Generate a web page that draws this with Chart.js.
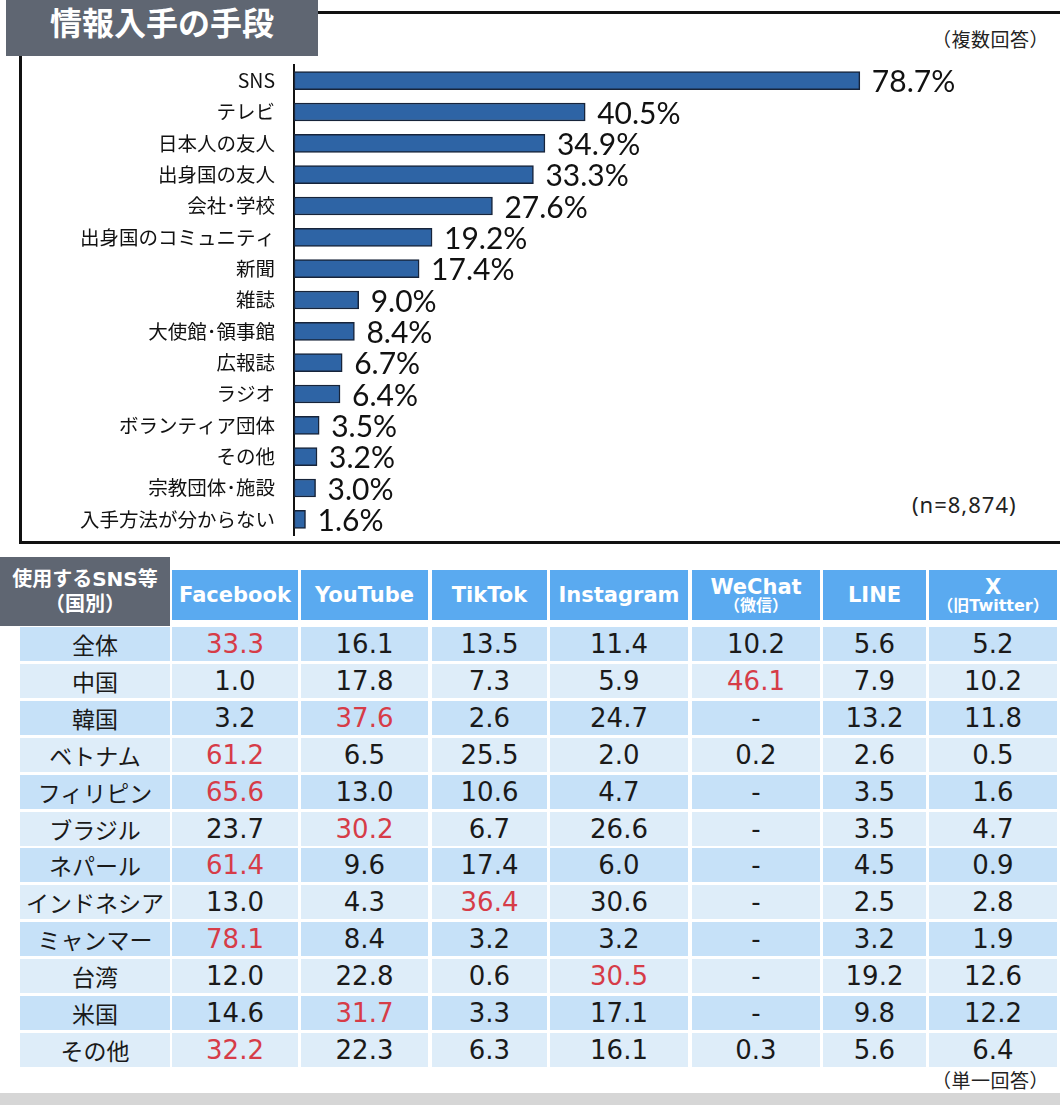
<!DOCTYPE html>
<html lang="ja">
<head>
<meta charset="utf-8">
<title>情報入手の手段</title>
<script src="https://cdn.jsdelivr.net/npm/chart.js@4.4.1/dist/chart.umd.min.js"></script>
<style>
  html, body { margin: 0; padding: 0; background: #fff; }
  body {
    width: 1060px; height: 1105px; position: relative; overflow: hidden;
    font-family: "Noto Sans CJK JP", "Noto Sans", sans-serif; color: #111;
  }
  #titleBox {
    position: absolute; left: 6px; top: 0; width: 312px; height: 56px;
    background: #5f6672; color: #fff; font-weight: bold; font-size: 32px;
    line-height: 42px; text-align: center; z-index: 2;
  }
  #frame {
    position: absolute; left: 19px; top: 11px; width: 1100px; height: 527px;
    border: 3px solid #111; z-index: 1;
  }
  #chartWrap { position: absolute; left: 20px; top: 56px; width: 1040px; height: 485px; z-index: 3; }
  .note { position: absolute; font-size: 19px; color: #222; z-index: 3; letter-spacing: 0.5px; }
  .cell {
    position: absolute; display: flex; align-items: center; justify-content: center;
    text-align: center; box-sizing: border-box;
  }
  .head { background: #5aaaf0; color: #fff; font-weight: bold;
    font-family: "DejaVu Sans", "Noto Sans CJK JP", sans-serif; font-size: 21px; flex-direction: column; line-height: 1.05; }
  .head small { font-size: 16px; font-weight: bold; }
  .corner { background: #5f6672; color: #fff; font-weight: bold; font-size: 20px; flex-direction: column; line-height: 1.25;
    font-family: "DejaVu Sans", "Noto Sans CJK JP", sans-serif; }
  .num { font-family: "DejaVu Sans", "Noto Sans CJK JP", sans-serif; font-size: 26px; color: #1a1a1a; }
  .num.top { color: #d63c48; }
  .country { font-size: 23px; color: #1a1a1a; }
  #band { position: absolute; left: 0; top: 1093px; width: 1060px; height: 12px; background: #d6d6d6; }
</style>
</head>
<body>
<div id="titleBox">情報入手の手段</div>
<div id="frame"></div>
<div class="note" style="left:932px; top:25px;">（複数回答）</div>
<div class="note" style="left:912px; top:489px; font-size:22px; letter-spacing:1px; font-family:'Noto Sans','DejaVu Sans',sans-serif;">(n=8,874)</div>
<div id="chartWrap"><canvas id="infoChart"></canvas></div>
<div id="table"></div>
<div class="note" style="left:932px; top:1066px;">（単一回答）</div>
<div id="band"></div>

<script>
// 情報入手の手段（複数回答, %）
const categories = ['SNS', 'テレビ', '日本人の友人', '出身国の友人', '会社･学校', '出身国のコミュニティ', '新聞',
  '雑誌', '大使館･領事館', '広報誌', 'ラジオ', 'ボランティア団体', 'その他', '宗教団体･施設', '入手方法が分からない'];
const shares = [78.7, 40.5, 34.9, 33.3, 27.6, 19.2, 17.4, 9.0, 8.4, 6.7, 6.4, 3.5, 3.2, 3.0, 1.6];

// 使用するSNS等（国別, 単一回答, %）
const platforms = ['Facebook', 'YouTube', 'TikTok', 'Instagram', 'WeChat', 'LINE', 'X'];
const platformNotes = ['', '', '', '', '（微信）', '', '（旧Twitter）'];
const countries = ['全体', '中国', '韓国', 'ベトナム', 'フィリピン', 'ブラジル', 'ネパール', 'インドネシア', 'ミャンマー', '台湾', '米国', 'その他'];
const facebook  = [33.3, 1.0, 3.2, 61.2, 65.6, 23.7, 61.4, 13.0, 78.1, 12.0, 14.6, 32.2];
const youtube   = [16.1, 17.8, 37.6, 6.5, 13.0, 30.2, 9.6, 4.3, 8.4, 22.8, 31.7, 22.3];
const tiktok    = [13.5, 7.3, 2.6, 25.5, 10.6, 6.7, 17.4, 36.4, 3.2, 0.6, 3.3, 6.3];
const instagram = [11.4, 5.9, 24.7, 2.0, 4.7, 26.6, 6.0, 30.6, 3.2, 30.5, 17.1, 16.1];
const wechat    = [10.2, 46.1, null, 0.2, null, null, null, null, null, null, null, 0.3];
const lineApp   = [5.6, 7.9, 13.2, 2.6, 3.5, 3.5, 4.5, 2.5, 3.2, 19.2, 9.8, 5.6];
const xTwitter  = [5.2, 10.2, 11.8, 0.5, 1.6, 4.7, 0.9, 2.8, 1.9, 12.6, 12.2, 6.4];

document.addEventListener('DOMContentLoaded', () => {
  drawShareChart();
  buildSnsTable();
});

// 棒の右に「xx.x%」を書くプラグイン
const valueLabels = {
  id: 'valueLabels',
  afterDatasetsDraw(chart) {
    const ctx = chart.ctx;
    const meta = chart.getDatasetMeta(0);
    ctx.save();
    ctx.font = '30px Lato, "DejaVu Sans", sans-serif';
    ctx.fillStyle = '#111';
    ctx.textAlign = 'left';
    ctx.textBaseline = 'middle';
    meta.data.forEach((bar, i) => {
      const v = chart.data.datasets[0].data[i];
      ctx.fillText(v.toFixed(1) + '%', bar.x + 12, bar.y + 2);
    });
    ctx.restore();
  }
};

function drawShareChart() {
  const ctx = document.getElementById('infoChart').getContext('2d');
  new Chart(ctx, {
    type: 'bar',
    data: {
      labels: categories,
      datasets: [{
        data: shares,
        backgroundColor: '#2e64a5',
        borderColor: '#17243a',
        borderWidth: 1.5,
        borderSkipped: false,
        barThickness: 18
      }]
    },
    options: {
      indexAxis: 'y',
      responsive: true,
      maintainAspectRatio: false,
      animation: false,
      layout: { padding: { top: 9, bottom: 6, right: 47, left: 0 } },
      plugins: { legend: { display: false }, tooltip: { enabled: false } },
      scales: {
        x: { display: false, min: 0, max: 100 },
        y: {
          grid: { display: false, drawTicks: false },
          border: { display: true, color: '#111', width: 2 },
          ticks: {
            color: '#111', padding: 19,
            font: { family: '"Noto Sans CJK JP", sans-serif', size: 19.5 }
          },
          afterFit: (scale) => {
            scale.width = 274;
            // ラベル分の上下余白を消して行間を元図に合わせる
            scale.paddingTop = 0;
            scale.paddingBottom = 0;
          }
        }
      }
    },
    plugins: [valueLabels]
  });
}

function buildSnsTable() {
  const table = document.getElementById('table');
  const series = [facebook, youtube, tiktok, instagram, wechat, lineApp, xTwitter];
  const colX = [20, 172, 301, 432, 550, 692, 823, 929];
  const colW = [150, 126, 127, 115, 138, 128, 103, 128];

  const addCell = (cls, x, y, w, h, html) => {
    const d = document.createElement('div');
    d.className = 'cell ' + cls;
    d.style.left = x + 'px'; d.style.top = y + 'px';
    d.style.width = w + 'px'; d.style.height = h + 'px';
    d.innerHTML = html;
    table.appendChild(d);
    return d;
  };

  // 見出し
  addCell('corner', 0, 557, 170, 69, '<span>使用するSNS等</span><span>（国別）</span>');
  platforms.forEach((p, j) => {
    const note = platformNotes[j] ? '<small>' + platformNotes[j] + '</small>' : '';
    addCell('head', colX[j + 1], 570, colW[j + 1], 50, '<span>' + p + '</span>' + note);
  });

  // 各国の行（行の最大値を赤字）
  countries.forEach((c, i) => {
    const y = Math.round(627 + i * 36.9);
    const bg = i % 2 === 0 ? '#c6e1f8' : '#deedf9';
    const row = series.map(s => s[i]);
    const best = Math.max(...row.filter(v => v !== null));
    addCell('country', colX[0], y, colW[0], 34, c).style.background = bg;
    row.forEach((v, j) => {
      const cls = 'num' + (v === best ? ' top' : '');
      const cell = addCell(cls, colX[j + 1], y, colW[j + 1], 34, v === null ? '-' : v.toFixed(1));
      cell.style.background = bg;
    });
  });
}
</script>
</body>
</html>
